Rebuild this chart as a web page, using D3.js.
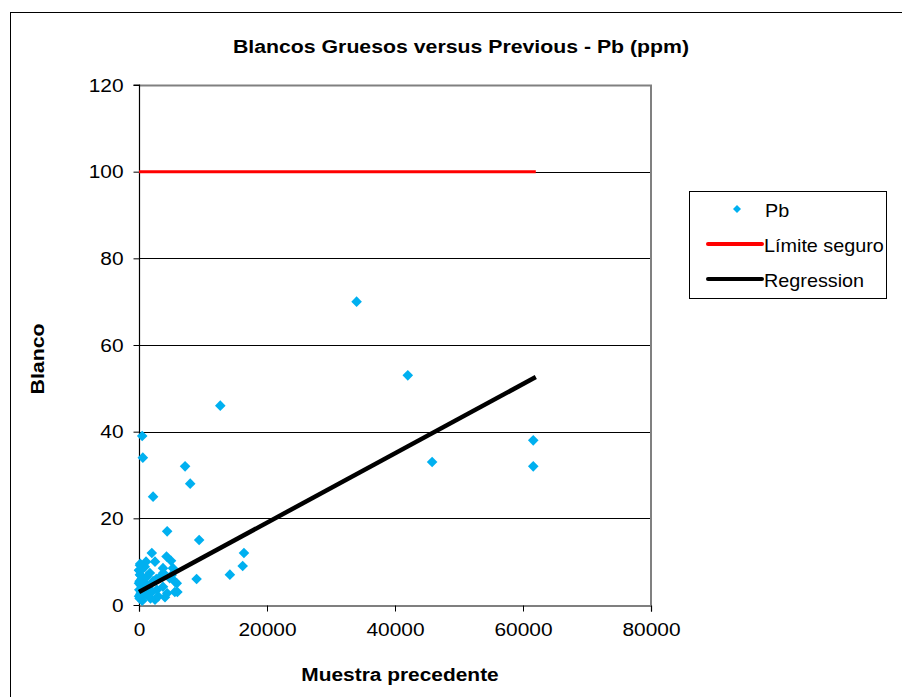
<!DOCTYPE html>
<html>
<head>
<meta charset="utf-8">
<script src="https://cdn.jsdelivr.net/npm/d3@7"></script>
<style>
  html, body { margin: 0; padding: 0; background: #fff; }
  svg { display: block; font-family: "Liberation Sans", Arial, sans-serif; }
</style>
</head>
<body>
<svg id="chart" width="902" height="697"></svg>
<script>
// Pb in coarse blanks vs. the preceding sample (ppm)
const previousPb = [
  34000, 42000, 12700, 61600, 61600, 45800, 500, 600, 7200, 8000,
  2200, 4400, 9400, 16400, 16200, 14200, 9000,
  2000, 4300, 5000, 1100, 2500, 150, 900, 3750, 5300, 1700,
  3800, 5100, 3300, 4800, 5600, 5900, 3750, 6000, 4400, 5600,
  1250, 2500, 4060,
  100, 200, 50, 300, 100, 400, 150, 50, 300, 600, 800, 700,
  1000, 1200, 1500, 2000, 2200, 2800, 3000, 2700, 500, 1800,
  0, 0, 0, 250, 450, 200
];
const blankPb = [
  70, 53, 46, 38, 32, 33, 39, 34, 32, 28,
  25, 17, 15, 12, 9, 7, 6,
  12, 11.2, 10.2, 10, 10, 9.2, 8.8, 8.5, 8.5, 7.4,
  7.4, 6.9, 6.5, 6.2, 5.4, 5, 4.2, 3, 2.7, 3,
  2.3, 1.2, 1.8,
  1.5, 2.5, 3.5, 4.5, 5.5, 6, 7, 8, 3, 2, 4, 6,
  5, 6.5, 4, 3, 5.5, 3.5, 2, 6, 1, 1.5,
  2, 5, 8, 6.8, 8.2, 9.5
];

// Safe limit and fitted regression line end points
const limitX = [0, 62000];
const limitY = [100, 100];
const regressionX = [0, 62000];
const regressionY = [3.0, 52.6];

const xTicks = [0, 20000, 40000, 60000, 80000];
const yTicks = [0, 20, 40, 60, 80, 100, 120];

const titleText = "Blancos Gruesos versus Previous - Pb (ppm)";
const xTitle = "Muestra precedente";
const yTitle = "Blanco";
const legendLabels = ["Pb", "Límite seguro", "Regression"];

const svg = d3.select("#chart");

// outer chart frame
svg.append("rect")
  .attr("x", 10.5).attr("y", 12.5)
  .attr("width", 900).attr("height", 700)
  .attr("fill", "#fff").attr("stroke", "#000").attr("stroke-width", 1);

const plot = { left: 139, right: 651, top: 85, bottom: 605 };

const x = d3.scaleLinear().domain([0, 80000]).range([plot.left, plot.right]);
const y = d3.scaleLinear().domain([0, 120]).range([plot.bottom, plot.top]);

// horizontal gridlines
svg.append("g")
  .selectAll("line")
  .data(yTicks.filter(d => d > 0 && d < 120))
  .join("line")
  .attr("x1", plot.left).attr("x2", plot.right)
  .attr("y1", d => Math.round(y(d)) + 0.5).attr("y2", d => Math.round(y(d)) + 0.5)
  .attr("stroke", "#000").attr("stroke-width", 1);

// plot area border (top and right)
svg.append("path")
  .attr("d", `M${plot.left},${plot.top + 0.5}H${plot.right}V${plot.bottom}`)
  .attr("fill", "none").attr("stroke", "#808080").attr("stroke-width", 2);

// axes
const yAxis = d3.axisLeft(y).tickValues(yTicks).tickSize(6).tickPadding(10).tickFormat(d3.format("d"));
const xAxis = d3.axisBottom(x).tickValues(xTicks).tickSize(6).tickPadding(11).tickFormat(d3.format("d"));

const gy = svg.append("g")
  .attr("transform", `translate(${plot.left + 0.5},0)`)
  .call(yAxis);
const gx = svg.append("g")
  .attr("transform", `translate(0,${plot.bottom + 0.5})`)
  .call(xAxis);

[gx, gy].forEach(g => {
  g.select(".domain").attr("stroke", "#000").attr("stroke-width", 1.2);
  g.selectAll(".tick line").attr("stroke", "#000");
  g.selectAll(".tick text")
    .attr("fill", "#000")
    .style("font-size", "19px")
    .style("font-family", "'Liberation Sans', Arial, sans-serif");
});
// slightly wide label face
gx.selectAll(".tick text").attr("transform", "scale(1.1,1)");
gy.selectAll(".tick text").attr("x", -16 / 1.1).attr("transform", "scale(1.1,1)");
gy.select(".domain").attr("d", `M-6,${y(120)}H0V${y(0)}`);

// safe limit line
const line = d3.line().x(d => x(d[0])).y(d => y(d[1]));
svg.append("path")
  .datum(d3.zip(limitX, limitY))
  .attr("d", line)
  .attr("fill", "none").attr("stroke", "#ff0000").attr("stroke-width", 3);

// scatter points
const diamond = "M0,-5.3L5.3,0L0,5.3L-5.3,0Z";
svg.append("g")
  .selectAll("path")
  .data(d3.zip(previousPb, blankPb))
  .join("path")
  .attr("d", diamond)
  .attr("transform", d => `translate(${x(d[0])},${y(d[1])})`)
  .attr("fill", "#00b0f0");

// regression line
svg.append("path")
  .datum(d3.zip(regressionX, regressionY))
  .attr("d", line)
  .attr("fill", "none").attr("stroke", "#000").attr("stroke-width", 4.5);

// titles
svg.append("text")
  .attr("transform", "translate(461,53) scale(1.12,1)")
  .attr("text-anchor", "middle")
  .style("font-size", "19px").style("font-weight", "bold")
  .text(titleText);

svg.append("text")
  .attr("transform", "translate(400,681) scale(1.1,1)")
  .attr("text-anchor", "middle")
  .style("font-size", "19px").style("font-weight", "bold")
  .text(xTitle);

svg.append("text")
  .attr("transform", "translate(44,359) rotate(-90) scale(1.12,1)")
  .attr("text-anchor", "middle")
  .style("font-size", "19px").style("font-weight", "bold")
  .text(yTitle);

// legend
const legend = svg.append("g");
legend.append("rect")
  .attr("x", 689.5).attr("y", 191.5)
  .attr("width", 197).attr("height", 107)
  .attr("fill", "#fff").attr("stroke", "#000").attr("stroke-width", 1);

const rows = [209, 244, 279];
legend.append("path")
  .attr("d", "M0,-4L4,0L0,4L-4,0Z")
  .attr("transform", `translate(737,${rows[0]})`)
  .attr("fill", "#00b0f0");
legend.append("line")
  .attr("x1", 708).attr("x2", 762).attr("y1", rows[1]).attr("y2", rows[1])
  .attr("stroke", "#ff0000").attr("stroke-width", 4).attr("stroke-linecap", "round");
legend.append("line")
  .attr("x1", 708).attr("x2", 762).attr("y1", rows[2]).attr("y2", rows[2])
  .attr("stroke", "#000").attr("stroke-width", 4).attr("stroke-linecap", "round");

legend.selectAll("text.lbl")
  .data(legendLabels)
  .join("text")
  .attr("class", "lbl")
  .attr("transform", (d, i) => `translate(${i === 0 ? 765 : 764},${rows[i] + 8}) scale(1.1,1)`)
  .style("font-size", "18px")
  .text(d => d);
</script>
</body>
</html>
